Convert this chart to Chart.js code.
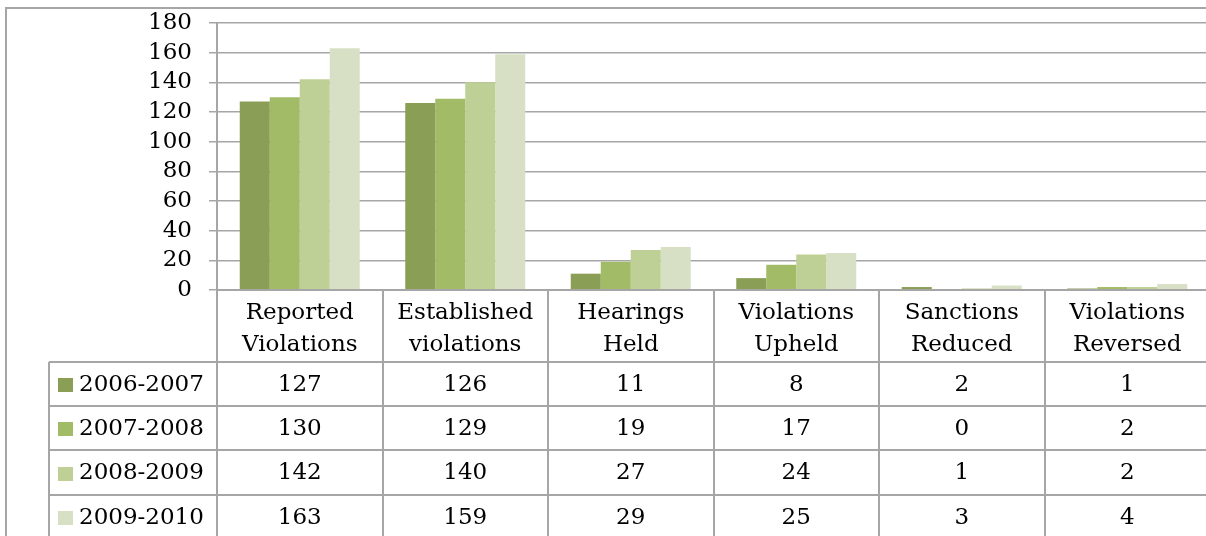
<!DOCTYPE html>
<html>
<head>
<meta charset="utf-8">
<script src="https://cdn.jsdelivr.net/npm/chart.js@4"></script>
<style>
  html, body { margin:0; padding:0; background:#fff; overflow:hidden; }
  #wrap { width:1212px; height:536px; }
</style>
</head>
<body>
<div id="wrap"><canvas id="chart" width="1212" height="536"></canvas></div>
<script>
/* ================= DATA ================= */
const categories = [
  ["Reported","Violations"],
  ["Established","violations"],
  ["Hearings","Held"],
  ["Violations","Upheld"],
  ["Sanctions","Reduced"],
  ["Violations","Reversed"]
];
const seriesNames = ["2006-2007","2007-2008","2008-2009","2009-2010"];
const v2006 = [127,126,11,8,2,1];
const v2007 = [130,129,19,17,0,2];
const v2008 = [142,140,27,24,1,2];
const v2009 = [163,159,29,25,3,4];
const yTicks = { min:0, max:180, step:20 };

/* ================= STYLE ================= */
const colors   = ["#8a9e55","#a2bb66","#bed096","#d7e0c4"];
const lineCol  = "#a6a6a6";
const FONT     = "'DejaVu Serif', serif";
const FSIZE    = 23;

const seriesValues = [v2006, v2007, v2008, v2009];

/* ================= PLUGIN: border + data table ================= */
const dataTable = {
  id: "dataTable",
  beforeDraw(chart){
    const c = chart.ctx;
    c.save();
    c.strokeStyle = lineCol;
    c.lineWidth = 2;
    c.strokeRect(6, 8, 1400, 700);
    c.restore();
  },
  afterDraw(chart){
    const c = chart.ctx;
    const xs = chart.scales.x;
    const n = categories.length;
    const cw = xs.width / n;
    const legLeft = 49;
    const rowTop = xs.bottom;
    const rowH = 44.2;
    const bottom = 560;
    const right = xs.right + 10;

    c.save();
    c.strokeStyle = lineCol;
    c.lineWidth = 2;
    c.beginPath();
    // vertical lines at category boundaries
    for(let i=0;i<=n;i++){
      const bx = Math.round(xs.getPixelForValue(0) - cw/2 + i*cw);
      c.moveTo(bx, xs.top); c.lineTo(bx, bottom);
    }
    // header top
    c.moveTo(xs.left, xs.top); c.lineTo(right, xs.top);
    // row lines
    for(let r=0;r<seriesNames.length+1;r++){
      const ry = Math.round(rowTop + r*rowH);
      c.moveTo(legLeft, ry); c.lineTo(right, ry);
    }
    c.moveTo(legLeft, rowTop); c.lineTo(legLeft, bottom);
    c.stroke();

    c.font = FSIZE + "px " + FONT;
    c.fillStyle = "#000";
    c.textBaseline = "middle";
    seriesNames.forEach((name,s)=>{
      const cy = rowTop + (s+0.5)*rowH;
      c.fillStyle = colors[s];
      c.fillRect(58, Math.round(cy-6), 15, 14);
      c.fillStyle = "#000";
      c.textAlign = "left";
      c.fillText(name, 79, cy+1);
      c.textAlign = "center";
      seriesValues[s].forEach((v,i)=>{
        c.fillText(String(v), xs.getPixelForValue(i), cy+1);
      });
    });
    c.restore();
  }
};

/* ================= CHART ================= */
const ctx = document.getElementById("chart").getContext("2d");
new Chart(ctx,{
  type:"bar",
  data:{
    labels: categories,
    datasets: seriesNames.map((name,s)=>({
      label: name,
      data: seriesValues[s],
      backgroundColor: colors[s],
      borderWidth: 0,
      categoryPercentage: .725,
      barPercentage: 1
    }))
  },
  options:{
    responsive:false,
    animation:false,
    layout:{ padding:{ left:0, top:23, right:2, bottom:174 } },
    plugins:{ legend:{ display:false }, tooltip:{ enabled:false }, title:{ display:false } },
    scales:{
      x:{
        grid:{ display:false, drawTicks:false },
        border:{ display:false },
        ticks:{
          color:"#000", font:{ family:FONT, size:FSIZE, lineHeight:1.4 },
          padding:7, maxRotation:0, autoSkip:false
        },
        afterFit(scale){ scale.height = 72; }
      },
      y:{
        min:yTicks.min, max:yTicks.max,
        grid:{ color:lineCol, lineWidth:1.5, tickLength:8, tickColor:lineCol },
        border:{ display:true, color:lineCol, width:2 },
        ticks:{
          stepSize:yTicks.step, color:"#000", autoSkip:false,
          font:{ family:FONT, size:FSIZE }, padding:17
        },
        afterFit(scale){
          scale.width = 217;
          scale.paddingTop = 0;
          scale.paddingBottom = 0;
        }
      }
    }
  },
  plugins:[dataTable]
});
</script>
</body>
</html>
